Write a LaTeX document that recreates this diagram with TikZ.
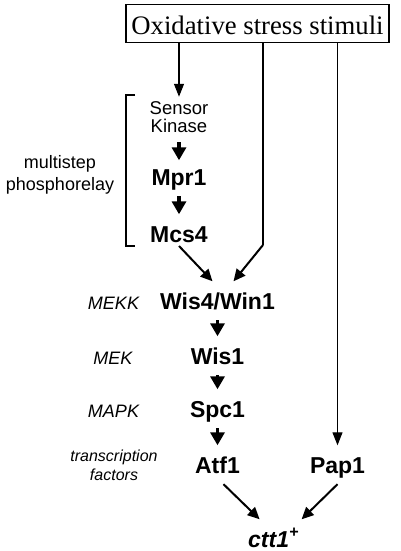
\documentclass[tikz,border=0pt]{standalone}
\usepackage{fontspec}
\setmainfont{Liberation Serif}
\setsansfont{Liberation Sans}
\usetikzlibrary{arrows.meta}

\begin{document}
\begin{tikzpicture}[x=1pt,y=-1pt,
    thin line/.style={line width=1.1pt},
    thin arrow/.style={-{Triangle[length=13pt,width=10pt]},line width=1.1pt},
    mid arrow/.style={-{Triangle[length=12pt,width=11pt]},line width=2pt},
    bold arrow/.style={-{Triangle[length=13pt,width=14pt]},line width=3.5pt},
    box node/.style={draw,line width=1.4pt,font=\rmfamily\fontsize{26.7}{30}\selectfont,text height=22pt,text depth=0pt,minimum width=263pt,minimum height=38pt,inner sep=0pt},
    prot node/.style={font=\sffamily\bfseries\fontsize{23}{27}\selectfont,text height=16.5pt,text depth=0pt,inner xsep=2pt,inner ysep=11pt,anchor=base},
    small node/.style={font=\sffamily\fontsize{18.5}{18}\selectfont,align=center,inner sep=5pt},
    class node/.style={font=\sffamily\itshape\fontsize{18}{22}\selectfont,anchor=base},
    side node/.style={font=\sffamily\fontsize{18}{22}\selectfont,align=center}]
    \useasboundingbox (0,0) rectangle (400,551);
    \begin{scope}
      \node[box node] (stimuli) at (257.5,23.5) {Oxidative stress stimuli};

      \node[small node] (sensor) at (179,117.5) {Sensor\\Kinase};
      \node[prot node] (mpr) at (179,185) {Mpr1};
      \node[prot node] (mcs) at (179,242) {Mcs4};
      \node[prot node] (wis4) at (217.5,309) {Wis4/Win1};
      \node[prot node] (wis1) at (217.5,364) {Wis1};
      \node[prot node] (spc) at (217.5,417) {Spc1};
      \node[prot node] (atf) at (217.5,473) {Atf1};
      \node[prot node] (pap) at (337.5,473) {Pap1};
      \node[prot node,anchor=base west] (ctt) at (246,547) {\itshape ctt1\textsuperscript{+}};

      \node[side node] (relay) at (60,174.5) {multistep\\phosphorelay};
      \node[class node] (mekk) at (113.5,309) {MEKK};
      \node[class node] (mek) at (113,364) {MEK};
      \node[class node] (mapk) at (113.5,417) {MAPK};
      \node[side node,font=\sffamily\itshape\fontsize{16}{19}\selectfont] (tf) at (114,465.5) {transcription\\factors};

      \coordinate (turn) at (263,245);

      % bracket
      \draw[line width=1.4pt] (135,95) -- (126,95) -- (126,246) -- (135,246);

      \path[thin arrow] (stimuli.south -| sensor) edge (sensor);
      \draw[thin line] (stimuli.south -| turn) -- (turn);
      \path[thin arrow] (stimuli.south -| pap) edge (pap);

      \path[bold arrow,shorten <=4pt,shorten >=-3pt] (sensor) edge (mpr);
      \path[bold arrow] (mpr) edge (mcs);
      \draw[mid arrow] ([yshift=-4pt]mcs.base) -- ([xshift=-5pt]wis4.north);
      \draw[mid arrow] (turn) -- ([xshift=16pt]wis4.north);
      \path[bold arrow] (wis4) edge (wis1);
      \path[bold arrow] (wis1) edge (spc);
      \path[bold arrow] (spc) edge (atf);
      \draw[mid arrow] ([xshift=6pt]atf.south) -- ([xshift=-14pt]ctt.north);
      \draw[mid arrow] (pap.south) -- ([xshift=28pt]ctt.north);
    \end{scope}
  \end{tikzpicture}
\end{document}
